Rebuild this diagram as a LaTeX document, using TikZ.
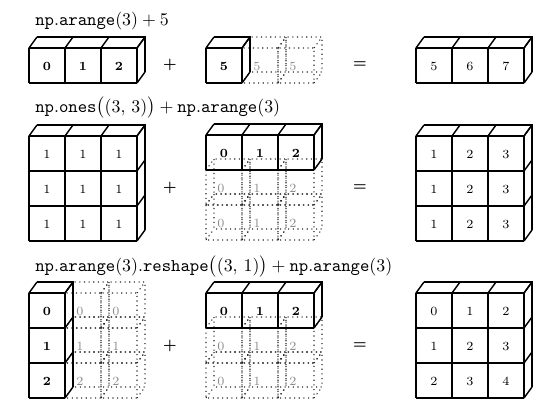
\documentclass[tikz,border=0pt]{standalone}
\usepackage{amsmath}
\usepackage{bm}
\usepackage{amssymb}
\usepackage{tikz}

% block of cubes: style, x, y of the front top left corner, columns, rows
\newcommand{\drawblock}[5]{%
  \begin{scope}[shift={(#2,#3)}]
    \foreach \ci in {0,...,#4} {
      \draw[#1] (36*\ci,0) -- ++(0,35*#5);
      \draw[#1] (36*\ci,0) -- ++(8,-11);
    }
    \foreach \ri in {0,...,#5} {
      \draw[#1] (0,35*\ri) -- ++(36*#4,0);
      \draw[#1] (36*#4,35*\ri) -- ++(8,-11);
    }
    \draw[#1] (8,-11) -- ++(36*#4,0) -- ++(0,35*#5);
  \end{scope}
}
% one see-through cube: x, y of the front top left corner
\newcommand{\drawghost}[2]{%
  \draw[ghost] (#1,#2) rectangle ++(36,35)
    (#1+8,#2-11) rectangle ++(36,35)
    (#1,#2) -- ++(8,-11) (#1+36,#2) -- ++(8,-11)
    (#1,#2+35) -- ++(8,-11) (#1+36,#2+35) -- ++(8,-11);
}

\tikzset{
  cubeline/.style={draw=black, line width=0.8pt},
  ghost/.style={draw=black!85, dotted, line width=0.6pt},
  num/.style={font=\scriptsize\bfseries},
  resnum/.style={font=\scriptsize},
  ghostnum/.style={font=\scriptsize, text=black!45},
  title/.style={anchor=base west},
  op/.style={font=\footnotesize}
}

\begin{document}
\begin{tikzpicture}[x=0.56pt, y=-0.56pt]
                    \useasboundingbox (0,0) rectangle (555,411);
                    % Row 1
                    \node[title] (t1) at (29,25) {$\mathtt{np.arange}(3)+5$};
                    \drawblock{cubeline}{29}{48}{3}{1}
                    \foreach \i in {0,1,2} {
                        \node[num] (a\i) at (47+36*\i,66) {\i};
                    }
                    \node[op] (p1) at (170,65) {$\bm{+}$};
                    \foreach \i in {1,2} {
                        \drawghost{206+36*\i}{48}
                        \node[ghostnum] (g\i) at (221+36*\i,66) {5};
                    }
                    \drawblock{cubeline}{206}{48}{1}{1}
                    \node[num] (b0) at (224,66) {5};
                    \node[op] (e1) at (360,65) {$\bm{=}$};
                    \drawblock{cubeline}{416}{48}{3}{1}
                    \foreach \i/\v in {0/5,1/6,2/7} {
                        \node[resnum] (c\i) at (434+36*\i,66) {\v};
                    }
                    % Row 2
                    \node[title] (t2) at (29,112) {$\mathtt{np.ones}\big((3,\,3)\big)+\mathtt{np.arange}(3)$};
                    \drawblock{cubeline}{29}{136}{3}{3}
                    \foreach \j in {0,1,2} {
                        \foreach \i in {0,1,2} {
                            \node[resnum] (d\j\i) at (47+36*\i,154+35*\j) {1};
                        }
                    }
                    \node[op] (p2) at (170,188) {$\bm{+}$};
                    \foreach \j in {1,2} {
                        \foreach \i in {0,1,2} {
                            \drawghost{206+36*\i}{135+35*\j}
                            \node[ghostnum] (h\j\i) at (221+36*\i,153+35*\j) {\i};
                        }
                    }
                    \drawblock{cubeline}{206}{135}{3}{1}
                    \foreach \i in {0,1,2} {
                        \node[num] (f\i) at (224+36*\i,153) {\i};
                    }
                    \node[op] (e2) at (360,188) {$\bm{=}$};
                    \drawblock{cubeline}{416}{136}{3}{3}
                    \foreach \j in {0,1,2} {
                        \foreach \i in {0,1,2} {
                            \pgfmathtruncatemacro{\s}{\i+1}
                            \node[resnum] (k\j\i) at (434+36*\i,154+35*\j) {\s};
                        }
                    }
                    % Row 3
                    \node[title] (t3) at (29,271) {$\mathtt{np.arange}(3)\mathtt{.reshape}\big((3,\,1)\big)+\mathtt{np.arange}(3)$};
                    \foreach \j in {0,1,2} {
                        \foreach \i in {1,2} {
                            \drawghost{29+36*\i}{293+35*\j}
                            \node[ghostnum] (m\j\i) at (44+36*\i,311+35*\j) {\j};
                        }
                    }
                    \drawblock{cubeline}{29}{293}{1}{3}
                    \foreach \j in {0,1,2} {
                        \node[num] (n\j) at (47,311+35*\j) {\j};
                    }
                    \node[op] (p3) at (170,346) {$\bm{+}$};
                    \foreach \j in {1,2} {
                        \foreach \i in {0,1,2} {
                            \drawghost{206+36*\i}{293+35*\j}
                            \node[ghostnum] (q\j\i) at (221+36*\i,311+35*\j) {\i};
                        }
                    }
                    \drawblock{cubeline}{206}{293}{3}{1}
                    \foreach \i in {0,1,2} {
                        \node[num] (r\i) at (224+36*\i,311) {\i};
                    }
                    \node[op] (e3) at (360,346) {$\bm{=}$};
                    \drawblock{cubeline}{416}{293}{3}{3}
                    \foreach \j in {0,1,2} {
                        \foreach \i in {0,1,2} {
                            \pgfmathtruncatemacro{\s}{\i+\j}
                            \node[resnum] (u\j\i) at (434+36*\i,311+35*\j) {\s};
                        }
                    }
                \end{tikzpicture}
\end{document}
